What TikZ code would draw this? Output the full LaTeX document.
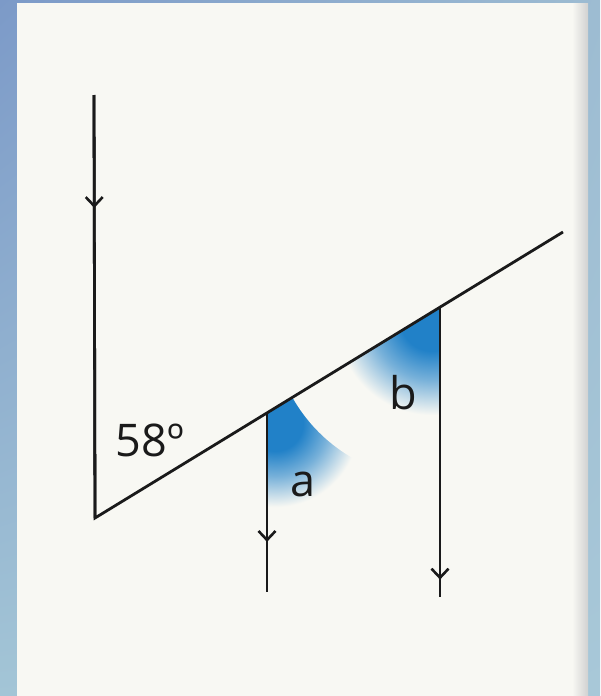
\documentclass[tikz,border=0pt]{standalone}
\usepackage{fontspec}
\setmainfont{Open Sans}
\usetikzlibrary{arrows.meta,decorations.markings,calc,shadings}
\definecolor{paper}{HTML}{F8F8F3}
\definecolor{bgA}{HTML}{7C9AC8}
\definecolor{bgB}{HTML}{9DBCD2}
\definecolor{bgC}{HTML}{A3C5D6}
\definecolor{bgD}{HTML}{A8C8D8}
\definecolor{shadeblue}{HTML}{2181C8}
\definecolor{ink}{HTML}{1A1A1A}
\pgfdeclareradialshading{bluefade}{\pgfpoint{0bp}{0bp}}{color(0bp)=(shadeblue); color(5bp)=(shadeblue); color(9.5bp)=(shadeblue!60!paper); color(15bp)=(paper); color(50bp)=(paper)}
\tikzset{
  geo/.style={draw=ink, line width=2.8pt},
  midarrow/.style={postaction={decorate, decoration={markings,
      mark=at position #1 with {\arrow{Straight Barb[length=9pt,width=17pt,line width=2.6pt]}}}}},
  lbl/.style={text=ink, font=\fontsize{45}{50}\selectfont, inner sep=0pt}
}
\begin{document}
\begin{tikzpicture}[x=1pt,y=-1pt]
\useasboundingbox (0,0) rectangle (600,696);
% background frame
\shade[upper left=bgA, upper right=bgB, lower left=bgC, lower right=bgD] (0,0) rectangle (600,696);
\fill[paper] (17,3) rectangle (588,696);
\shade[left color=paper, right color=black!18] (572,3) rectangle (588,696);

% key points
\coordinate (T) at (94,95);
\coordinate (V) at (95,518);
\coordinate (E) at (563,232);
\coordinate (A) at (267,413);
\coordinate (Ab) at (267,592);
\coordinate (B) at (440,307);
\coordinate (Bb) at (440,597);

% shaded angle a
\begin{scope}
  \clip (A) -- ($(A)!200pt!(E)$) -- ($(A)+(200,200)$) -- ($(A)+(0,200)$) -- cycle;
  \shade[shading=bluefade] ($(A)+(8,10)$) circle (140);
\end{scope}
% shaded angle b
\begin{scope}
  \clip (B) -- ($(B)!200pt!(V)$) -- ($(B)+(-200,200)$) -- ($(B)+(0,200)$) -- cycle;
  \shade[shading=bluefade] ($(B)+(-8,12)$) circle (160);
\end{scope}

% lines
\draw[geo, midarrow=0.267] (T) -- (V);
\draw[geo, line join=miter] (T) -- (V) -- (E);
\draw[geo, midarrow=0.72] (A) -- (Ab);
\draw[geo, midarrow=0.94] (B) -- (Bb);

% labels
\node[lbl] (l58) at (150,440) {58º};
\node[lbl] (la) at (303,484) {a};
\node[lbl] (lb) at (403,393) {b};
\end{tikzpicture}
\end{document}
